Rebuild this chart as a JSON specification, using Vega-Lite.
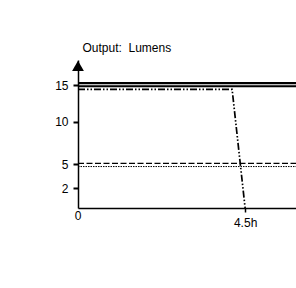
{
  "$schema": "https://vega.github.io/schema/vega-lite/v6.json",
  "width": 218,
  "height": 148,
  "autosize": "none",
  "padding": {"left": 78, "top": 60, "right": 0, "bottom": 80},
  "background": "white",
  "config": {"view": {"stroke": null}, "font": "Liberation Sans"},
  "datasets": {
    "lines": [
      {"s": "thick", "x": 0, "y": 15.25},
      {"s": "thick", "x": 5.9, "y": 15.25},
      {"s": "thin", "x": 0, "y": 14.84},
      {"s": "thin", "x": 5.9, "y": 14.84},
      {"s": "dashdot", "x": 0, "y": 14.4},
      {"s": "dashdot", "x": 4.15, "y": 14.4},
      {"s": "dashdot", "x": 4.5, "y": 0},
      {"s": "dashed", "x": 0, "y": 5.08},
      {"s": "dashed", "x": 5.9, "y": 5.08},
      {"s": "dotted", "x": 0, "y": 4.68},
      {"s": "dotted", "x": 5.9, "y": 4.68}
    ],
    "arrow": [{"x": 0, "y": 17.6}],
    "origin": [{"x": 0, "y": 0, "label": "0"}]
  },
  "layer": [
    {
      "data": {"name": "lines"},
      "mark": {"type": "line", "color": "black", "clip": true},
      "encoding": {
        "x": {
          "field": "x", "type": "quantitative",
          "scale": {"domain": [0, 5.87], "nice": false, "zero": false},
          "axis": {
            "values": [4.5], "labelExpr": "'4.5h'", "title": null,
            "domainColor": "black", "domainWidth": 1.5, "tickColor": "black",
            "tickWidth": 1.5, "tickSize": 4, "labelPadding": 5, "labelDx": 3, "labelFontSize": 12,
            "labelColor": "black", "grid": false
          }
        },
        "y": {
          "field": "y", "type": "quantitative",
          "scale": {"domain": [0, 2, 5, 10, 15, 18.4], "range": [148, 128, 104, 61.5, 25, 0], "nice": false, "zero": false},
          "axis": {
            "values": [2, 5, 10, 15], "grid": false,
            "title": "Output:\u00a0\u00a0Lumens", "titleAngle": 0, "titleAlign": "left",
            "titleBaseline": "alphabetic", "titleX": 4, "titleY": -9,
            "titleFontWeight": "normal", "titleFontSize": 12, "titleColor": "black",
            "domainColor": "black", "domainWidth": 1.5, "tickColor": "black",
            "tickWidth": 2, "tickSize": 5, "labelPadding": 5, "labelFontSize": 12,
            "labelColor": "black"
          }
        },
        "detail": {"field": "s"},
        "strokeDash": {
          "field": "s", "type": "nominal",
          "scale": {"domain": ["thick", "thin", "dashdot", "dashed", "dotted"],
                    "range": [[1, 0], [1, 0], [7, 2, 1.5, 2, 1.5, 2], [6, 2.5], [1.5, 1]]},
          "legend": null
        },
        "strokeWidth": {
          "field": "s", "type": "nominal",
          "scale": {"domain": ["thick", "thin", "dashdot", "dashed", "dotted"],
                    "range": [2.4, 1, 1.5, 1.5, 1.6]},
          "legend": null
        }
      }
    },
    {
      "data": {"name": "arrow"},
      "mark": {"type": "point", "shape": "triangle-up", "filled": true, "color": "black", "size": 140, "opacity": 1},
      "encoding": {
        "x": {"field": "x", "type": "quantitative"},
        "y": {"field": "y", "type": "quantitative"}
      }
    },
    {
      "data": {"name": "origin"},
      "mark": {"type": "text", "baseline": "top", "align": "center", "dy": 3, "fontSize": 12, "color": "black", "font": "Liberation Sans"},
      "encoding": {
        "x": {"field": "x", "type": "quantitative"},
        "y": {"field": "y", "type": "quantitative"},
        "text": {"field": "label"}
      }
    }
  ]
}
